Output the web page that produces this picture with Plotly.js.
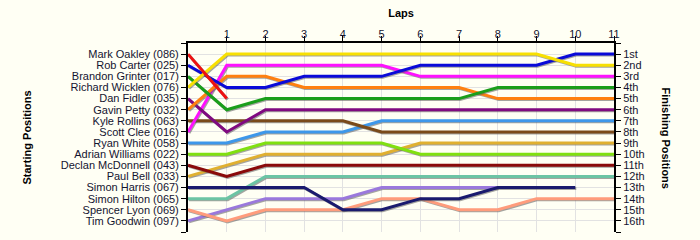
<!DOCTYPE html>
<html>
<head>
<meta charset="utf-8">
<script src="https://cdn.plot.ly/plotly-3.0.1.min.js"></script>
<style>
  html, body { margin: 0; padding: 0; background: #fffff4; }
  #chart { width: 700px; height: 240px; }
  .scatterlayer .js-line { filter: drop-shadow(1px 1.5px 0px rgba(90,90,90,0.55)); }
</style>
</head>
<body>
<div id="chart"></div>
<script>
const laps = [0, 1, 2, 3, 4, 5, 6, 7, 8, 9, 10, 11];
const lapTicks = [1, 2, 3, 4, 5, 6, 7, 8, 9, 10, 11];

const drivers = [
  "Mark Oakley (086)", "Rob Carter (025)", "Brandon Grinter (017)", "Richard Wicklen (076)",
  "Dan Fidler (035)", "Gavin Petty (032)", "Kyle Rollins (063)", "Scott Clee (016)",
  "Ryan White (058)", "Adrian Williams (022)", "Declan McDonnell (043)", "Paul Bell (033)",
  "Simon Harris (067)", "Simon Hilton (065)", "Spencer Lyon (069)", "Tim Goodwin (097)"
];

const finishLabels = ["1st", "2nd", "3rd", "4th", "5th", "6th", "7th", "8th",
  "9th", "10th", "11th", "12th", "13th", "14th", "15th", "16th"];

// position after each lap (index 0 = start)
const markOakley      = [1, 5];
const robCarter       = [2, 4, 4, 3, 3, 3, 2, 2, 2, 2, 1, 1];
const brandonGrinter  = [3, 6, 5, 5, 5, 5, 5, 5, 4, 4, 4, 4];
const richardWicklen  = [4, 1, 1, 1, 1, 1, 1, 1, 1, 1, 2, 2];
const danFidler       = [5, 8, 6, 6, 6, 6, 6, 6, 6, 6, 6, 6];
const gavinPetty      = [6, 3, 3, 4, 4, 4, 4, 4, 5, 5, 5, 5];
const kyleRollins     = [7, 7, 7, 7, 7, 8, 8, 8, 8, 8, 8, 8];
const scottClee       = [8, 2, 2, 2, 2, 2, 3, 3, 3, 3, 3, 3];
const ryanWhite       = [9, 9, 8, 8, 8, 7, 7, 7, 7, 7, 7, 7];
const adrianWilliams  = [10, 10, 9, 9, 9, 9, 10, 10, 10, 10, 10, 10];
const declanMcDonnell = [11, 12, 11, 11, 11, 11, 11, 11, 11, 11, 11, 11];
const paulBell        = [12, 11, 10, 10, 10, 10, 9, 9, 9, 9, 9, 9];
const simonHarris     = [13, 13, 13, 13, 15, 15, 14, 14, 13, 13, 13];
const simonHilton     = [14, 14, 12, 12, 12, 12, 12, 12, 12, 12, 12, 12];
const spencerLyon     = [15, 16, 15, 15, 15, 14, 14, 15, 15, 14, 14, 14];
const timGoodwin      = [16, 15, 14, 14, 14, 13, 13, 13, 13];

const series = [markOakley, robCarter, brandonGrinter, richardWicklen, danFidler, gavinPetty,
  kyleRollins, scottClee, ryanWhite, adrianWilliams, declanMcDonnell, paulBell,
  simonHarris, simonHilton, spencerLyon, timGoodwin];

const colors = ["#ee1111", "#0a0ad8", "#1a9e1a", "#f8e000", "#800a80", "#ff8010",
  "#7a4a1a", "#ff10ff", "#3d97ea", "#80e010", "#8a0a0a", "#e0b030",
  "#1a1a6e", "#6cc4a4", "#ff9c7c", "#9a78dc"];

const drawOrder = [15, 14, 13, 12, 11, 10, 9, 8, 6, 7, 4, 5, 2, 1, 3, 0];

const traces = drawOrder.map(i => ({
  type: "scatter",
  mode: "lines",
  x: laps.slice(0, series[i].length),
  y: series[i],
  name: drivers[i],
  line: { color: colors[i], width: 3 },
  hoverinfo: "skip",
  showlegend: false
}));

// invisible trace so the right axis is drawn
traces.push({
  type: "scatter", mode: "markers", x: [0], y: [1], yaxis: "y2",
  marker: { opacity: 0 }, hoverinfo: "skip", showlegend: false
});

const posTicks = [];
for (let p = 0; p <= drivers.length + 1; p++) posTicks.push(p);
const leftText = posTicks.map(p => (p >= 1 && p <= drivers.length) ? drivers[p - 1] : "");
const rightText = posTicks.map(p => (p >= 1 && p <= finishLabels.length) ? finishLabels[p - 1] : "");

const font = { family: "Liberation Sans, Arial, sans-serif", size: 11, color: "#141430" };

const layout = {
  width: 700, height: 240,
  margin: { l: 188, r: 86, t: 43, b: 8, pad: 0 },
  paper_bgcolor: "#fffff4",
  plot_bgcolor: "#fffff4",
  font: font,
  showlegend: false,
  xaxis: {
    side: "top",
    range: [0, 11],
    tickvals: lapTicks,
    ticktext: lapTicks.map(String),
    ticks: "outside", ticklen: 5, tickwidth: 1, tickcolor: "#000",
    ticklabelstandoff: -6,
    showline: true, linecolor: "#000", linewidth: 2,
    showgrid: true, gridcolor: "#e2e2e2", gridwidth: 1,
    zeroline: false,
    tickfont: font,
    title: { text: "Laps", font: { family: font.family, size: 11, color: "#000", weight: "bold" }, standoff: 8 },
    fixedrange: true
  },
  yaxis: {
    range: [17, 0],
    tickvals: posTicks,
    ticktext: leftText,
    ticks: "outside", ticklen: 5, tickwidth: 1, tickcolor: "#000",
    showline: true, linecolor: "#000", linewidth: 2,
    showgrid: true, gridcolor: "#e2e2e2", gridwidth: 1,
    zeroline: false,
    tickfont: font,
    title: { text: "Starting Positions", font: { family: font.family, size: 11, color: "#000", weight: "bold" }, standoff: 27 },
    fixedrange: true
  },
  yaxis2: {
    overlaying: "y",
    side: "right",
    range: [17, 0],
    tickvals: posTicks,
    ticktext: rightText,
    ticks: "outside", ticklen: 5, tickwidth: 1, tickcolor: "#000",
    showline: true, linecolor: "#000", linewidth: 2,
    showgrid: false, zeroline: false,
    tickfont: font,
    fixedrange: true
  },
  annotations: [{
    text: "Finishing Positions",
    xref: "paper", yref: "paper",
    x: (666 - 188) / 426, y: 0.5,
    xanchor: "center", yanchor: "middle",
    textangle: 90,
    showarrow: false,
    font: { family: font.family, size: 11, color: "#000", weight: "bold" }
  }]
};

Plotly.newPlot("chart", traces, layout, { staticPlot: true, displayModeBar: false });
</script>
</body>
</html>
